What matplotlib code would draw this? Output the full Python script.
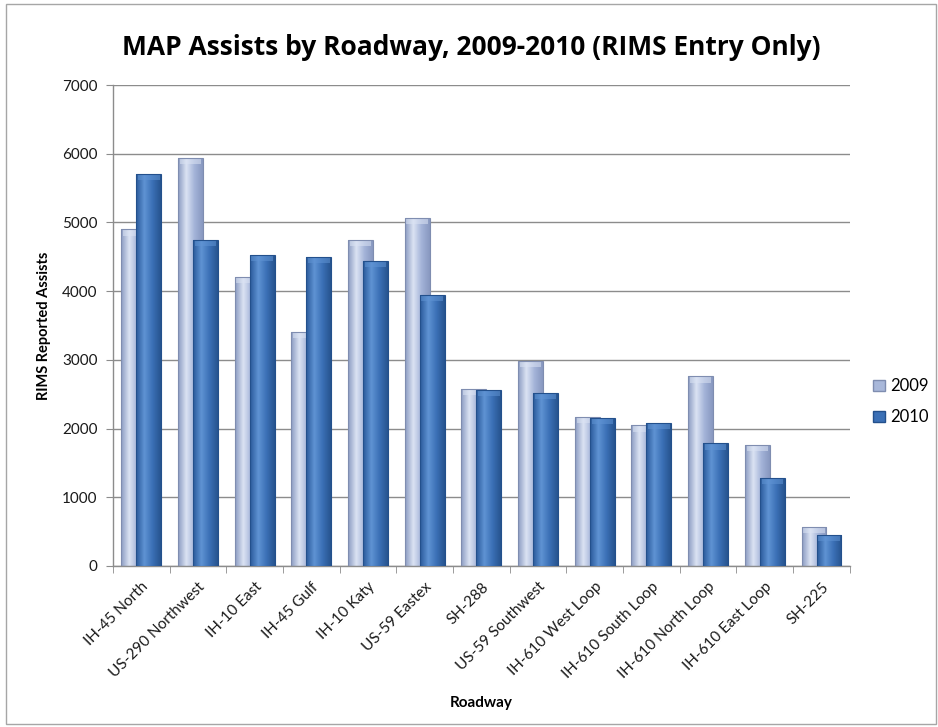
import numpy as np
import matplotlib
matplotlib.use('Agg')
import matplotlib.pyplot as plt
from matplotlib.colors import LinearSegmentedColormap
from matplotlib.patches import Patch, Rectangle

# Данные с графика
roadways = ['IH-45 North', 'US-290 Northwest', 'IH-10 East', 'IH-45 Gulf', 'IH-10 Katy',
            'US-59 Eastex', 'SH-288', 'US-59 Southwest', 'IH-610 West Loop',
            'IH-610 South Loop', 'IH-610 North Loop', 'IH-610 East Loop', 'SH-225']
assists_2009 = [4900, 5940, 4210, 3410, 4745, 5070, 2580, 2980, 2165, 2045, 2760, 1765, 570]
assists_2010 = [5710, 4745, 4530, 4500, 4445, 3940, 2565, 2515, 2155, 2080, 1785, 1285, 450]
years = ['2009', '2010']

plt.rcParams['font.family'] = ['Lato', 'DejaVu Sans']

fig = plt.figure(figsize=(9.38, 7.27), dpi=100)
ax = fig.add_axes([0.1205, 0.2215, 0.7855, 0.6615])

# рамка вокруг рисунка
fig.patches.append(Rectangle((0.006, 0.004), 0.992, 0.99, transform=fig.transFigure,
                             fill=False, edgecolor='#a6a6a6', linewidth=1.0))

x = np.arange(len(roadways))
width = 0.44
shift = 0.1325


def shade(bars, colors, z):
    # горизонтальный градиент внутри столбика
    cmap = LinearSegmentedColormap.from_list('g', colors)
    grad = np.linspace(0, 1, 64).reshape(1, -1)
    for b in bars:
        x0, y0 = b.get_x(), b.get_y()
        im = ax.imshow(grad, cmap=cmap, aspect='auto', interpolation='bilinear',
                       extent=(x0, x0 + b.get_width(), y0, y0 + b.get_height()), zorder=z)
        im.set_clip_path(b)
        # светлая фаска сверху
        top = b.get_height()
        ax.add_patch(Rectangle((x0 + 0.03, top - 90), b.get_width() - 0.06, 85,
                               facecolor=colors[1], edgecolor='none', alpha=0.55, zorder=z + 0.05))


b09 = ax.bar(x - shift, assists_2009, width, facecolor='none', edgecolor='#7f8db0',
             linewidth=0.8, zorder=2.1)
shade(b09, ['#8b9bc2', '#dbe3f3', '#a3b3d8', '#8898c0'], 2.0)

b10 = ax.bar(x + shift, assists_2010, width, facecolor='none', edgecolor='#23508c',
             linewidth=0.8, zorder=3.1)
shade(b10, ['#2a5a9b', '#5f93d3', '#3b70b6', '#27548f'], 3.0)

ax.set_xlim(-0.5, len(roadways) - 0.5)
ax.set_ylim(0, 7000)
ax.set_yticks(range(0, 7001, 1000))
ax.yaxis.grid(True, color='#8c8c8c', linewidth=1.0, zorder=0)
ax.set_axisbelow(True)

ax.set_xticks(x)
ax.set_xticklabels(roadways, rotation=45, ha='right', va='top', rotation_mode='anchor',
                   fontsize=11, color='#1a1a1a')
ax.set_xticks(np.arange(-0.5, len(roadways)), minor=True)
ax.tick_params(axis='x', which='major', length=0, pad=10)
ax.tick_params(axis='x', which='minor', length=5, color='#8c8c8c')
ax.tick_params(axis='y', length=5, color='#8c8c8c', labelsize=11, labelcolor='#1a1a1a', pad=6)

for side in ['top', 'right']:
    ax.spines[side].set_visible(False)
for side in ['left', 'bottom']:
    ax.spines[side].set_color('#8c8c8c')
    ax.spines[side].set_linewidth(1.0)

ax.set_ylabel('RIMS Reported Assists', fontsize=10.5, fontweight='bold', labelpad=8)
fig.text(0.513, 0.033, 'Roadway', ha='center', va='center', fontsize=11, fontweight='bold')
fig.text(0.502, 0.935, 'MAP Assists by Roadway, 2009-2010 (RIMS Entry Only)', ha='center',
         va='center', fontsize=19, fontweight='bold', family=['Open Sans', 'DejaVu Sans'])

handles = [Patch(facecolor='#a9b8da', edgecolor='#7f8db0'),
           Patch(facecolor='#3b70b6', edgecolor='#23508c')]
fig.legend(handles, years, loc='upper left', bbox_to_anchor=(0.915, 0.5), frameon=False,
           fontsize=12, handlelength=0.7, handleheight=0.7, handletextpad=0.3,
           labelspacing=0.9)

fig.savefig('out.png', dpi=100)
